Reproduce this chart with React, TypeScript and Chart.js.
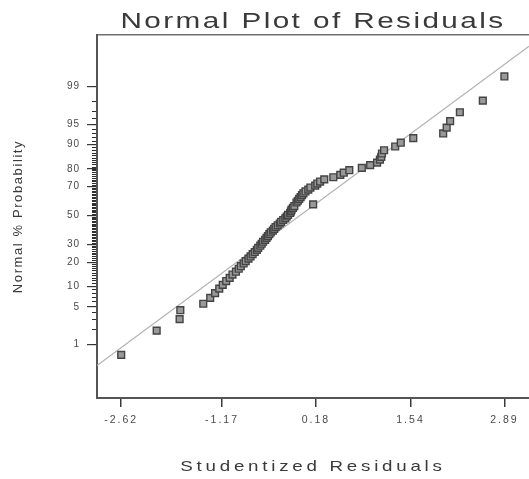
import React, { useEffect, useRef } from "react";
import { Chart, registerables } from "chart.js";

Chart.register(...registerables);

const TITLE = "Normal Plot of Residuals";
const X_TITLE = "Studentized Residuals";
const Y_TITLE = "Normal % Probability";

const xTickValues = [-2.62, -1.17, 0.18, 1.54, 2.89];
const xTickLabels = ["-2.62", "-1.17", "0.18", "1.54", "2.89"];
const yTickProbs = [1, 5, 10, 20, 30, 50, 70, 80, 90, 95, 99];
const yTickLabels = ["1", "5", "10", "20", "30", "50", "70", "80", "90", "95", "99"];
const yMinorProbs = Array.from({ length: 99 }, (_, i) => i + 1);

// studentized residuals, in rank order
const residuals = [
  -2.62, -2.11, -1.78, -1.77, -1.44, -1.34, -1.27, -1.21, -1.16, -1.11,
  -1.06, -1.02, -0.97, -0.93, -0.9, -0.86, -0.83, -0.79, -0.76, -0.73,
  -0.7, -0.67, -0.65, -0.62, -0.6, -0.58, -0.55, -0.53, -0.51, -0.49,
  -0.47, -0.44, -0.42, -0.4, -0.37, -0.34, -0.32, -0.29, -0.26, -0.24,
  -0.22, -0.19, -0.18, -0.17, -0.15, -0.13, 0.14, -0.1, -0.08, -0.06,
  -0.04, -0.02, 0.0, 0.03, 0.07, 0.1, 0.17, 0.2, 0.24, 0.3,
  0.43, 0.53, 0.58, 0.66, 0.84, 0.96, 1.06, 1.1, 1.12, 1.13,
  1.16, 1.32, 1.4, 1.58, 2.01, 2.06, 2.11, 2.25, 2.58, 2.89,
];

// normal % probability of each point
const probabilities = [
  0.6, 1.9, 3.1, 4.4, 5.6, 6.9, 8.1, 9.4, 10.6, 11.9,
  13.1, 14.4, 15.6, 16.9, 18.1, 19.4, 20.6, 21.9, 23.1, 24.4,
  25.6, 26.9, 28.1, 29.4, 30.6, 31.9, 33.1, 34.4, 35.6, 36.9,
  38.1, 39.4, 40.6, 41.9, 43.1, 44.4, 45.6, 46.9, 48.1, 49.4,
  50.6, 51.9, 53.1, 54.4, 55.6, 56.9, 58.1, 59.4, 60.6, 61.9,
  63.1, 64.4, 65.6, 66.9, 68.1, 69.4, 70.6, 71.9, 73.1, 74.4,
  75.6, 76.9, 78.1, 79.4, 80.6, 81.9, 83.1, 84.4, 85.6, 86.9,
  88.1, 89.4, 90.6, 91.9, 93.1, 94.4, 95.6, 96.9, 98.1, 99.4,
];

// reference line end points (residual, % probability)
const refLineX = [-2.968, 3.244];
const refLineProb = [0.344, 99.889];

const X_MIN = -2.968;
const X_MAX = 3.244;
const Z_MIN = -3.29;
const Z_MAX = 3.26;

const FONT = "'Liberation Sans', Arial, Helvetica, sans-serif";

// inverse standard normal CDF (probability axis transform)
function probit(p: number): number {
  const a = [-39.69683028665376, 220.9460984245205, -275.9285104469687, 138.357751867269, -30.66479806614716, 2.506628277459239];
  const b = [-54.47609879822406, 161.5858368580409, -155.6989798598866, 66.80131188771972, -13.28068155288572];
  const c = [-0.007784894002430293, -0.3223964580411365, -2.400758277161838, -2.549732539343734, 4.374664141464968, 2.938163982698783];
  const d = [0.007784695709041462, 0.3224671290700398, 2.445134137142996, 3.754408661907416];
  const pl = 0.02425;
  if (p < pl) {
    const q = Math.sqrt(-2 * Math.log(p));
    return (((((c[0] * q + c[1]) * q + c[2]) * q + c[3]) * q + c[4]) * q + c[5]) / ((((d[0] * q + d[1]) * q + d[2]) * q + d[3]) * q + 1);
  }
  if (p <= 1 - pl) {
    const q = p - 0.5;
    const r = q * q;
    return ((((((a[0] * r + a[1]) * r + a[2]) * r + a[3]) * r + a[4]) * r + a[5]) * q) / (((((b[0] * r + b[1]) * r + b[2]) * r + b[3]) * r + b[4]) * r + 1);
  }
  const q = Math.sqrt(-2 * Math.log(1 - p));
  return -(((((c[0] * q + c[1]) * q + c[2]) * q + c[3]) * q + c[4]) * q + c[5]) / ((((d[0] * q + d[1]) * q + d[2]) * q + d[3]) * q + 1);
}

function wrapDraw(obj: any, name: string, setup: (self: any, ctx: any) => void) {
  if (!obj || obj["__wrapped_" + name]) return;
  const orig = obj[name];
  obj[name] = function (...args: any[]) {
    const ctx = this.ctx;
    ctx.save();
    setup(this, ctx);
    orig.apply(this, args);
    ctx.restore();
  };
  obj["__wrapped_" + name] = true;
}

const textStylePlugin = {
  id: "textStyle",
  afterUpdate(chart: any) {
    wrapDraw(chart.titleBlock, "draw", (self, ctx) => {
      ctx.letterSpacing = "1.8px";
      const cx = (self.left + self.right) / 2;
      ctx.translate(cx, 0);
      ctx.scale(1.35, 1);
      ctx.translate(-cx, 0);
    });
    const xs = chart.scales.x;
    const ys = chart.scales.y;
    wrapDraw(xs, "drawTitle", (self, ctx) => {
      ctx.letterSpacing = "3px";
      const cx = (self.left + self.right) / 2;
      ctx.translate(cx, 0);
      ctx.scale(1.25, 1);
      ctx.translate(-cx, 0);
    });
    wrapDraw(xs, "drawLabels", (_s, ctx) => {
      ctx.letterSpacing = "2px";
    });
    wrapDraw(ys, "drawTitle", (_s, ctx) => {
      ctx.letterSpacing = "1.6px";
    });
    wrapDraw(ys, "drawLabels", (_s, ctx) => {
      ctx.letterSpacing = "1px";
    });
  },
};

export default function App() {
  const canvasRef = useRef<HTMLCanvasElement | null>(null);

  useEffect(() => {
    const canvas = canvasRef.current;
    if (!canvas) return;
    const points = residuals.map((x, i) => ({ x, y: probit(probabilities[i] / 100) }));
    const linePts = refLineX.map((x, i) => ({ x, y: probit(refLineProb[i] / 100) }));

    const chart = new Chart(canvas, {
      type: "scatter",
      data: {
        datasets: [
          {
            label: "Residuals",
            data: points,
            pointStyle: "rect",
            pointRadius: 4.8,
            backgroundColor: "#999999",
            borderColor: "#444444",
            borderWidth: 1.4,
            order: 0,
          },
          {
            label: "Reference",
            data: linePts,
            showLine: true,
            pointRadius: 0,
            borderColor: "#b3b3b3",
            borderWidth: 1.2,
            order: 1,
          } as any,
        ],
      },
      options: {
        responsive: false,
        devicePixelRatio: 1,
        animation: false,
        layout: { padding: 0, autoPadding: false },
        plugins: {
          legend: { display: false },
          tooltip: { enabled: false },
          title: {
            display: true,
            text: TITLE,
            fullSize: false,
            color: "#3a3a3a",
            font: { family: FONT, size: 22, weight: "normal" },
            padding: { top: 8.6, bottom: 0 },
          },
        },
        scales: {
          x: {
            type: "linear",
            position: "bottom",
            min: X_MIN,
            max: X_MAX,
            afterBuildTicks: (scale: any) => {
              scale.ticks = xTickValues.map((v) => ({ value: v }));
            },
            afterFit: (scale: any) => {
              scale.height = 81;
              scale.paddingLeft = 0;
              scale.paddingRight = 0;
            },
            ticks: {
              autoSkip: false,
              maxRotation: 0,
              padding: 7,
              color: "#4a4a4a",
              font: { family: FONT, size: 10.5 },
              callback: (_v: any, i: number) => xTickLabels[i],
            },
            grid: {
              drawOnChartArea: false,
              tickLength: 9,
              color: "#3a3a3a",
              lineWidth: 1.5,
            },
            border: { display: true, color: "#555555", width: 2 },
            title: {
              display: true,
              text: X_TITLE,
              color: "#3a3a3a",
              font: { family: FONT, size: 15 },
              padding: { top: 0, bottom: 3.6 },
            },
          },
          xTop: {
            type: "linear",
            position: "top",
            min: X_MIN,
            max: X_MAX,
            afterFit: (scale: any) => {
              scale.height = 0;
              scale.paddingLeft = 0;
              scale.paddingRight = 0;
            },
            ticks: { display: false },
            grid: { display: false, drawOnChartArea: false },
            border: { display: true, color: "#707070", width: 1.5 },
          },
          y: {
            type: "linear",
            position: "left",
            weight: 1,
            min: Z_MIN,
            max: Z_MAX,
            afterBuildTicks: (scale: any) => {
              scale.ticks = yTickProbs.map((p) => ({ value: probit(p / 100) }));
            },
            afterFit: (scale: any) => {
              scale.width = 97;
            },
            ticks: {
              autoSkip: false,
              padding: 7,
              color: "#4a4a4a",
              font: { family: FONT, size: 10 },
              callback: (_v: any, i: number) => yTickLabels[i],
            },
            grid: {
              drawOnChartArea: false,
              tickLength: 10,
              color: "#3a3a3a",
              lineWidth: 1.2,
            },
            border: { display: true, color: "#555555", width: 2 },
            title: {
              display: true,
              text: Y_TITLE,
              color: "#3a3a3a",
              font: { family: FONT, size: 13 },
              padding: { top: 11, bottom: 0 },
            },
          },
          yMinor: {
            type: "linear",
            position: "left",
            weight: 0,
            min: Z_MIN,
            max: Z_MAX,
            afterBuildTicks: (scale: any) => {
              scale.ticks = yMinorProbs.map((p) => ({ value: probit(p / 100) }));
            },
            afterFit: (scale: any) => {
              scale.width = 0;
            },
            ticks: { display: false, autoSkip: false },
            grid: {
              display: true,
              drawOnChartArea: false,
              drawTicks: true,
              tickLength: 5,
              color: "#2e2e2e",
              lineWidth: 1,
            },
            border: { display: false },
          },
        },
      },
      plugins: [textStylePlugin],
    } as any);

    return () => chart.destroy();
  }, []);

  return (
    <div style={{ position: "fixed", left: 0, top: 0, width: 529, height: 479, background: "#ffffff" }}>
      <canvas ref={canvasRef} width={529} height={479} style={{ display: "block", width: 529, height: 479 }} />
    </div>
  );
}
